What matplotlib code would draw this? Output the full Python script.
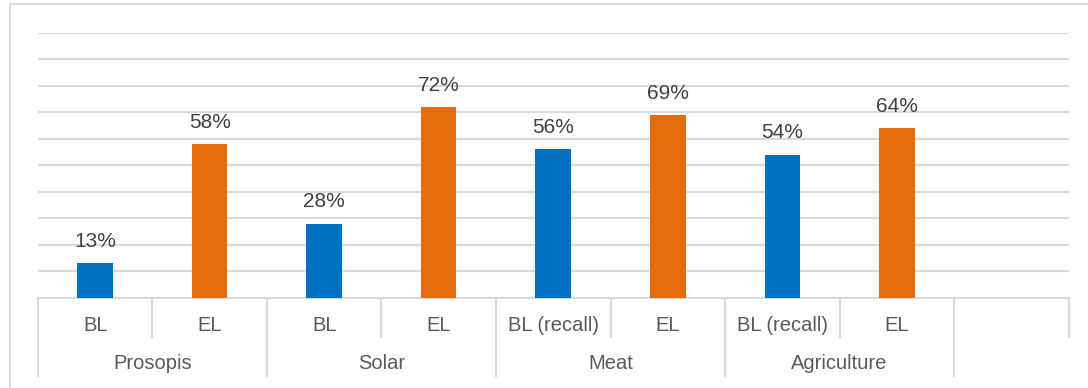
import matplotlib
matplotlib.use("Agg")
import matplotlib.pyplot as plt
from matplotlib.patches import Rectangle
import numpy as np

plt.rcParams.update({
    "font.family": ["Liberation Sans", "DejaVu Sans"],
})

# --- data ---
groups = ["Prosopis", "Solar", "Meat", "Agriculture"]
phases = ["BL", "EL", "BL", "EL", "BL (recall)", "EL", "BL (recall)", "EL"]
shares = [0.13, 0.58, 0.28, 0.72, 0.56, 0.69, 0.54, 0.64]
bar_colors = ["#0070C0", "#E46C0A"] * 4

GRID = "#D9D9D9"
TXT = "#595959"

fig = plt.figure(figsize=(10.88, 3.88), dpi=100)
ax = fig.add_axes([0.0349, 0.2327, 0.9472, 0.6823])

# outer chart frame
fig.patches.append(Rectangle((10 / 1088, -0.1), 1.2, (388 - 4) / 388 + 0.1,
                             transform=fig.transFigure, fill=False,
                             edgecolor=GRID, lw=1.3))

n_slots = len(phases) + 1  # trailing empty category
x = np.arange(len(phases))
bars = ax.bar(x, shares, width=0.31, color=bar_colors, zorder=3)
for b, v in zip(bars, shares):
    ax.annotate(f"{v:.0%}", (b.get_x() + b.get_width() / 2, v),
                xytext=(0, 9), textcoords="offset points",
                ha="center", va="bottom", fontsize=15, color="#404040")

ax.set_xlim(-0.5, n_slots - 0.5)
ax.set_ylim(0, 1.0)
ax.set_yticks(np.arange(0, 1.01, 0.1))
ax.yaxis.grid(True, color=GRID, lw=1.5, zorder=0)
ax.tick_params(left=False, labelleft=False, bottom=False, labelbottom=False)
for s in ["top", "right", "left"]:
    ax.spines[s].set_visible(False)
ax.spines["bottom"].set_color(GRID)
ax.spines["bottom"].set_linewidth(1.5)

# two-level category axis
tr = ax.get_xaxis_transform()
y1, y2 = -0.148, -0.296
for i in range(n_slots + 1):
    edge = i - 0.5
    bottom = y2 if i % 2 == 0 else y1
    ax.plot([edge, edge], [0, bottom], transform=tr, color=GRID, lw=1.5,
            clip_on=False, zorder=1)
for i, lab in enumerate(phases):
    ax.text(i, -0.104, lab, transform=tr, ha="center", va="center",
            fontsize=14.5, color=TXT)
for g, name in enumerate(groups):
    ax.text(2 * g + 0.5, -0.247, name, transform=tr, ha="center",
            va="center", fontsize=14.5, color=TXT)

fig.savefig("out.png", dpi=100, facecolor="white")
